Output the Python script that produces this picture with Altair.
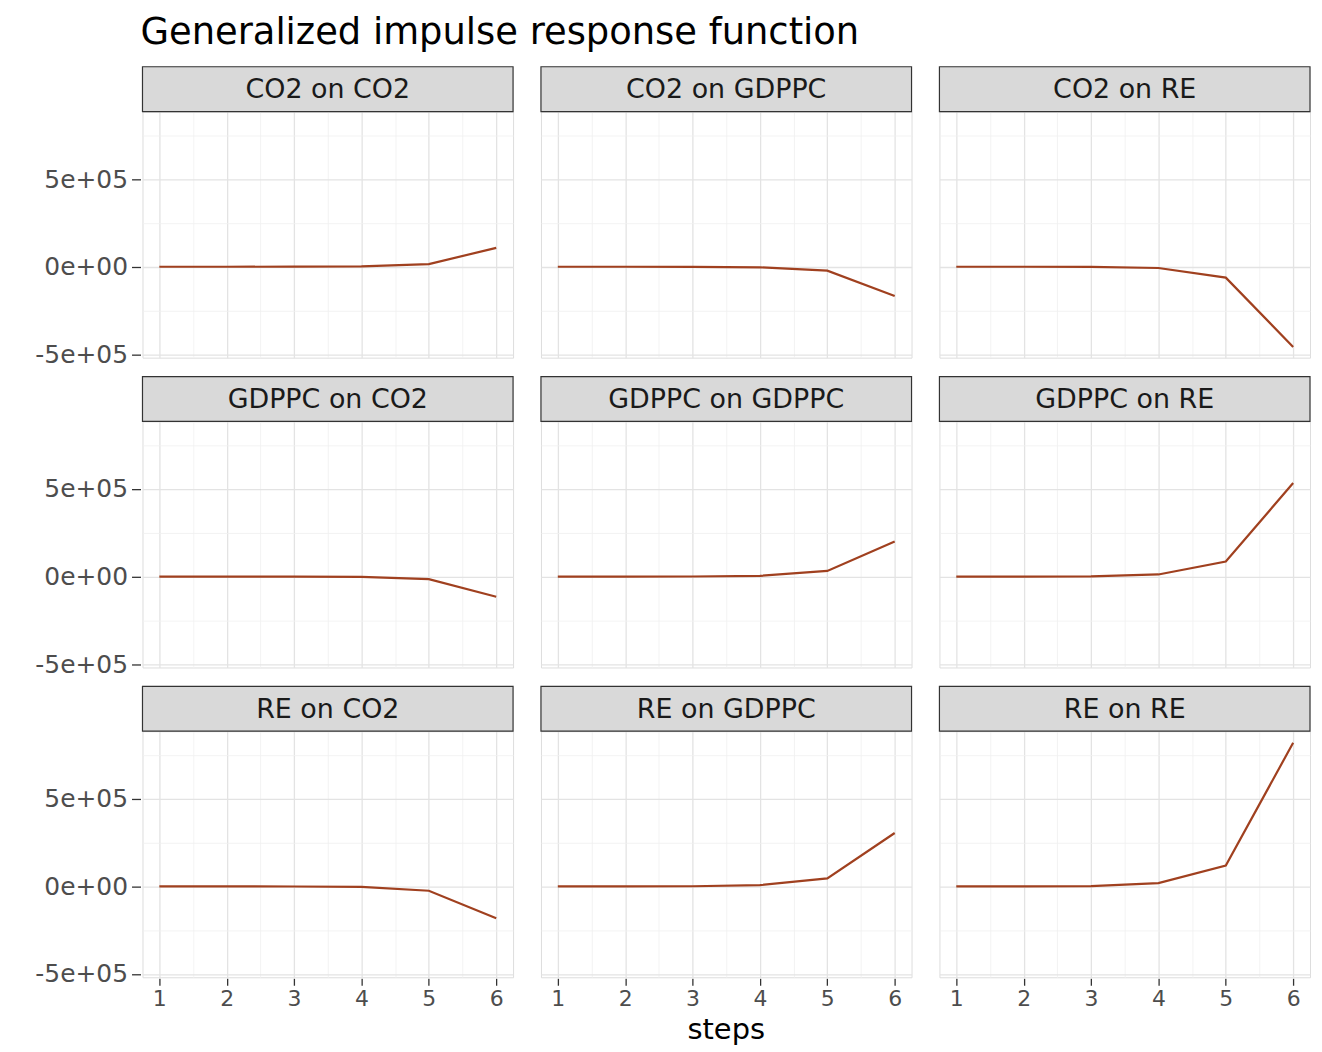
import altair as alt
import pandas as pd

steps = [1, 2, 3, 4, 5, 6]
panels = ["CO2 on CO2", "CO2 on GDPPC", "CO2 on RE",
          "GDPPC on CO2", "GDPPC on GDPPC", "GDPPC on RE",
          "RE on CO2", "RE on GDPPC", "RE on RE"]
co2_on_co2 = [0, 0, 500, 2000, 15000, 108000]
co2_on_gdppc = [0, 0, -500, -3000, -22000, -167000]
co2_on_re = [0, 0, -1000, -7000, -62000, -458000]
gdppc_on_co2 = [0, 0, -300, -2000, -15000, -115000]
gdppc_on_gdppc = [0, 0, 500, 4000, 32000, 200000]
gdppc_on_re = [0, 0, 1500, 12000, 86000, 534000]
re_on_co2 = [0, 0, -500, -3000, -25000, -182000]
re_on_gdppc = [0, 0, 800, 7000, 46000, 305000]
re_on_re = [0, 0, 2000, 19000, 119000, 820000]

series = [co2_on_co2, co2_on_gdppc, co2_on_re,
          gdppc_on_co2, gdppc_on_gdppc, gdppc_on_re,
          re_on_co2, re_on_gdppc, re_on_re]

rows = []
for name, vals in zip(panels, series):
    for s, v in zip(steps, vals):
        rows.append({"panel": name, "step": s, "value": v})
df = pd.DataFrame(rows)

FONT = "DejaVu Sans"
W, H = 372, 247
STRIP = 45

x_vals = [1, 1.5, 2, 2.5, 3, 3.5, 4, 4.5, 5, 5.5, 6]
y_vals = [-500000, -250000, 0, 250000, 500000, 750000]

x_axis = alt.Axis(
    values=x_vals, title=None, domain=False,
    labelExpr="datum.value % 1 == 0 ? datum.value : ''",
    labelFont=FONT, labelFontSize=22, labelColor="#4D4D4D", labelPadding=3,
    tickColor="#333333", tickSize=7, tickWidth=1.3,
    tickOpacity={"condition": {"test": "datum.value % 1 != 0", "value": 0}, "value": 1},
    gridColor={"condition": {"test": "datum.value % 1 != 0", "value": "#F0F0F0"}, "value": "#E3E3E3"},
    gridWidth={"condition": {"test": "datum.value % 1 != 0", "value": 0.8}, "value": 1.3},
    labelFlush=False,
)
y_axis = alt.Axis(
    values=y_vals, title=None, domain=False,
    labelExpr="datum.value == 0 ? '0e+00' : datum.value == 500000 ? '5e+05' : datum.value == -500000 ? '-5e+05' : ''",
    labelFont=FONT, labelFontSize=25, labelColor="#4D4D4D", labelPadding=4,
    tickColor="#333333", tickSize=9, tickWidth=1.3,
    tickOpacity={"condition": {"test": "datum.value % 500000 != 0", "value": 0}, "value": 1},
    gridColor={"condition": {"test": "datum.value % 500000 != 0", "value": "#F0F0F0"}, "value": "#E3E3E3"},
    gridWidth={"condition": {"test": "datum.value % 500000 != 0", "value": 0.8}, "value": 1.3},
    labelFlush=False,
)

strip_rect = alt.Chart().mark_rect(
    fill="#D9D9D9", stroke="#333333", strokeWidth=1.2
).encode(
    x=alt.value(0), x2=alt.value(W), y=alt.value(-STRIP), y2=alt.value(0)
).transform_filter("datum.step == 1")

strip_text = alt.Chart().mark_text(
    font=FONT, fontSize=27, color="#1A1A1A", align="center", baseline="middle"
).encode(
    x=alt.value(W / 2), y=alt.value(-STRIP / 2 + 1), text="panel:N"
).transform_filter("datum.step == 1")

line = alt.Chart().mark_line(color="#A0401F", strokeWidth=2.2).encode(
    x=alt.X("step:Q", scale=alt.Scale(domain=[0.75, 6.25], nice=False, zero=False), axis=x_axis),
    y=alt.Y("value:Q", scale=alt.Scale(domain=[-519000, 886000], nice=False, zero=False), axis=y_axis),
)

layered = alt.layer(line, strip_rect, strip_text, data=df).properties(width=W, height=H)

chart = layered.facet(
    facet=alt.Facet(
        "panel:N", sort=panels, title="steps",
        header=alt.Header(labels=False, labelExpr="''", labelFontSize=1, labelPadding=0,
                          titleOrient="bottom", titleFont=FONT,
                          titleFontSize=29, titleColor="black", titleFontWeight="normal",
                          titlePadding=7),
    ),
    columns=3,
    spacing={"row": 15, "column": 24},
).properties(
    title=alt.TitleParams("Generalized impulse response function", anchor="start",
                          font=FONT, fontSize=37, fontWeight="normal", color="black",
                          dx=106, offset=13),
    padding={"left": 26, "top": 3, "right": 2, "bottom": 0},
).configure_view(
    stroke="#333333", strokeWidth=1.2
).configure(background="white")

chart.save("out.html", embed_options={"renderer": "svg", "actions": False})
